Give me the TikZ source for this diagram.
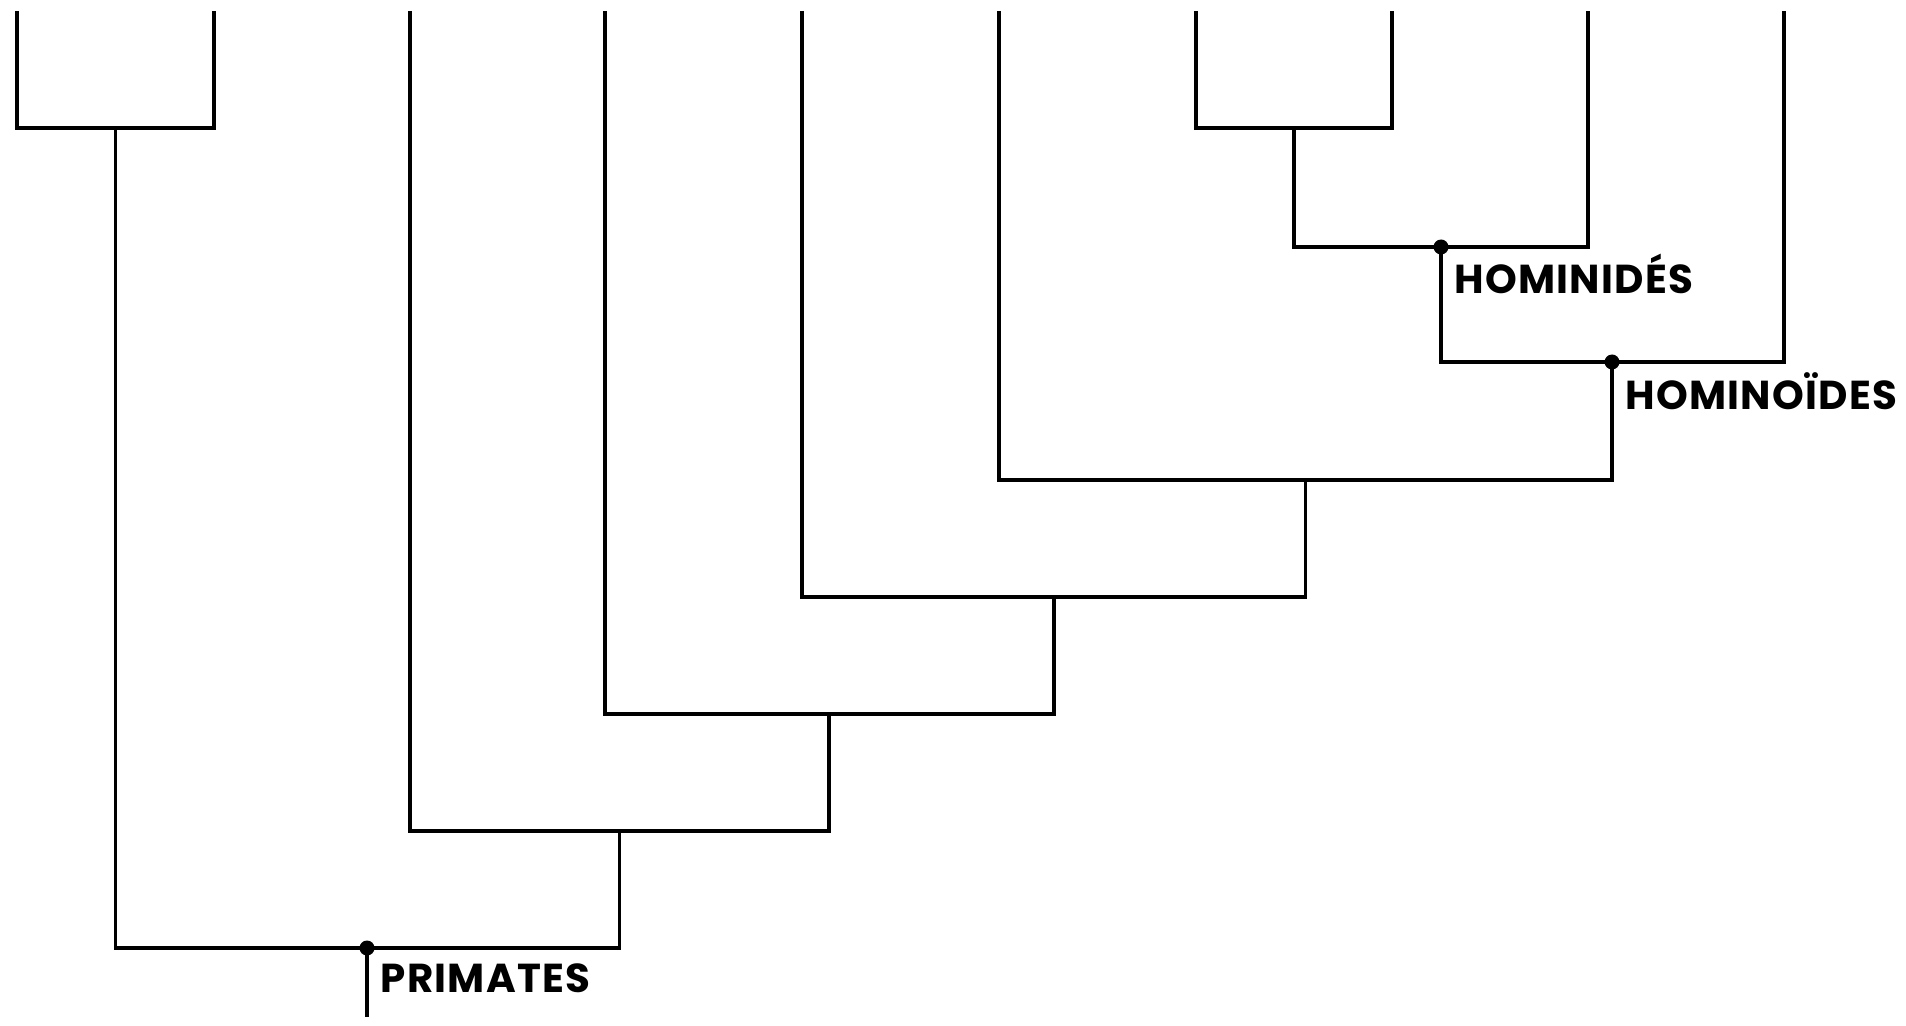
\documentclass[tikz,border=0pt]{standalone}
\usepackage{fontspec}
\newfontfamily\cladefont{Poppins}[LetterSpace=3]

\begin{document}
\begin{tikzpicture}[x=0.02cm,y=-0.02cm,line width=2pt,
    clade/.style={circle,fill=black,inner sep=0pt,minimum size=0.3cm},
    cladelabel/.style={anchor=north west,inner sep=0pt,font=\cladefont\bfseries\fontsize{23}{23}\selectfont}]
    \useasboundingbox (0,0) rectangle (1906,1026);

    % leaves
    \foreach \name/\x in {a/17,b/214,c/410,d/605,e/802,f/999,g/1196,h/1392,i/1588,j/1784}
        \coordinate (\name) at (\x,11);

    % inner nodes
    \coordinate (ab) at (115.5,128);
    \coordinate (gh) at (1294,128);
    \node[clade] (hominides) at (1441,247) {};
    \node[clade] (hominoides) at (1612,362) {};
    \coordinate (fg) at (1305.5,480);
    \coordinate (eg) at (1054,597);
    \coordinate (dg) at (829,714);
    \coordinate (cg) at (619.5,831);
    \node[clade] (primates) at (367,948) {};
    \coordinate (root) at (367,1017);

    \draw (a) |- (ab) -| (b);
    \draw (g) |- (gh) -| (h);
    \draw (gh) |- (hominides.center) -| (i);
    \draw (hominides.center) |- (hominoides.center) -| (j);
    \draw (f) |- (fg) -| (hominoides.center);
    \draw (e) |- (eg) -| (fg);
    \draw (d) |- (dg) -| (eg);
    \draw (c) |- (cg) -| (dg);
    \draw (ab) |- (primates.center) -| (cg);
    \draw (primates.center) -- (root);

    \node[cladelabel] at ([shift={(12,5)}]hominides.center) {HOMINIDÉS};
    \node[cladelabel] at ([shift={(12,9)}]hominoides.center) {HOMINOÏDES};
    \node[cladelabel] at ([shift={(12,14)}]primates.center) {PRIMATES};

\end{tikzpicture}
\end{document}
